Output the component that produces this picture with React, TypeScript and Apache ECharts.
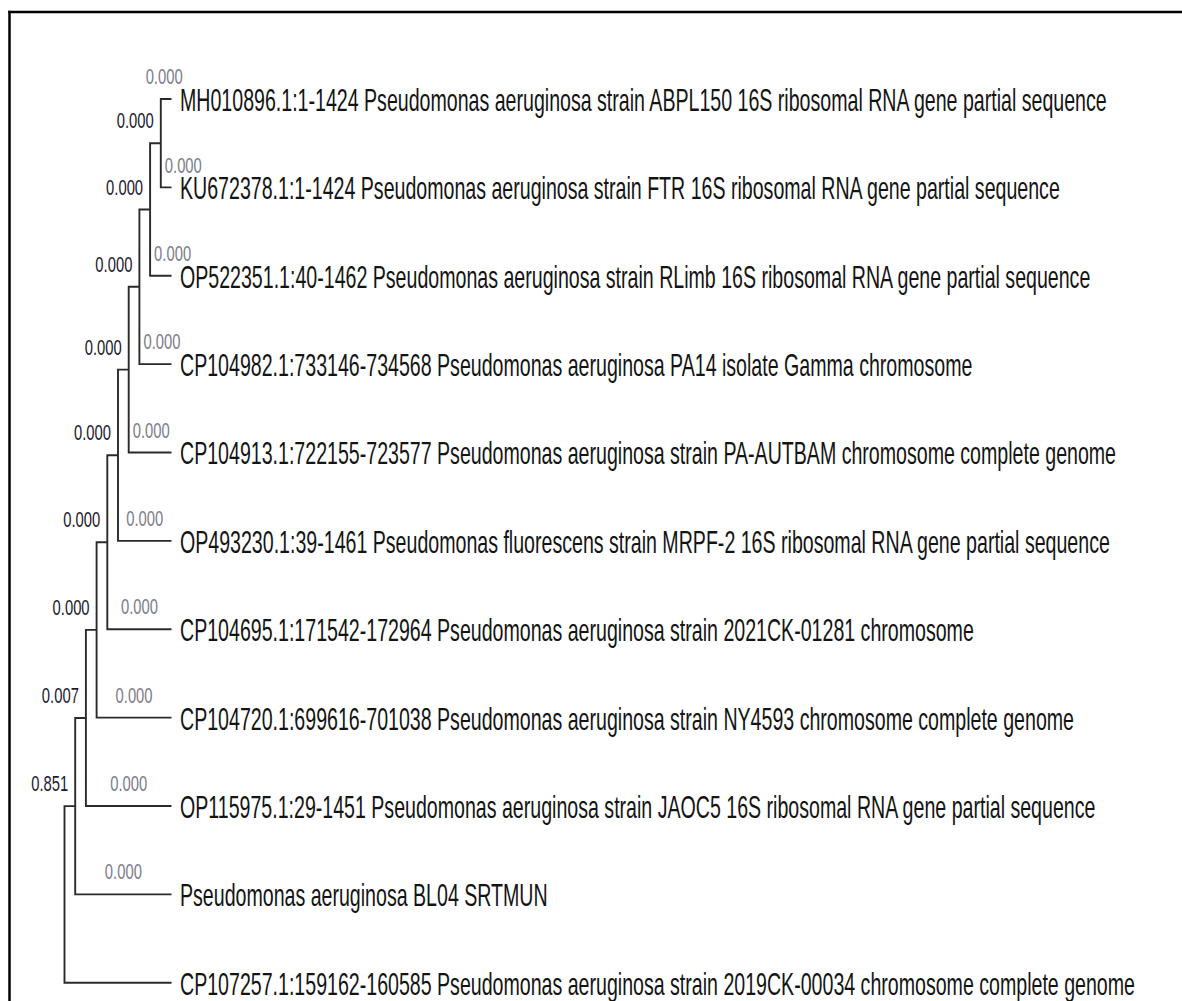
import React, { useEffect, useRef } from "react";
import * as echarts from "echarts";

// ---- data ----
const leafNames: string[] = [
  "MH010896.1:1-1424 Pseudomonas aeruginosa strain ABPL150 16S ribosomal RNA gene partial sequence",
  "KU672378.1:1-1424 Pseudomonas aeruginosa strain FTR 16S ribosomal RNA gene partial sequence",
  "OP522351.1:40-1462 Pseudomonas aeruginosa strain RLimb 16S ribosomal RNA gene partial sequence",
  "CP104982.1:733146-734568 Pseudomonas aeruginosa PA14 isolate Gamma chromosome",
  "CP104913.1:722155-723577 Pseudomonas aeruginosa strain PA-AUTBAM chromosome complete genome",
  "OP493230.1:39-1461 Pseudomonas fluorescens strain MRPF-2 16S ribosomal RNA gene partial sequence",
  "CP104695.1:171542-172964 Pseudomonas aeruginosa strain 2021CK-01281 chromosome",
  "CP104720.1:699616-701038 Pseudomonas aeruginosa strain NY4593 chromosome complete genome",
  "OP115975.1:29-1451 Pseudomonas aeruginosa strain JAOC5 16S ribosomal RNA gene partial sequence",
  "Pseudomonas aeruginosa BL04 SRTMUN",
  "CP107257.1:159162-160585 Pseudomonas aeruginosa strain 2019CK-00034 chromosome complete genome",
];

const leafBranchLabels: string[] = [
  "0.000", "0.000", "0.000", "0.000", "0.000", "0.000",
  "0.000", "0.000", "0.000", "0.000", "",
];

// internal nodes: children refer to leaves (L#) or internal nodes (N#); last is root
const cladeChildren: [string, string][] = [
  ["L0", "L1"],
  ["N0", "L2"],
  ["N1", "L3"],
  ["N2", "L4"],
  ["N3", "L5"],
  ["N4", "L6"],
  ["N5", "L7"],
  ["N6", "L8"],
  ["N7", "L9"],
  ["N8", "L10"],
];

const nodeLabels: string[] = [
  "0.000", "0.000", "0.000", "0.000", "0.000",
  "0.000", "0.000", "0.007", "0.851", "",
];

// ---- derived tree geometry (cladogram, in tree units) ----
const nNodes = cladeChildren.length;
const rootIdx = nNodes - 1;
const nodeDepth: number[] = new Array(nNodes).fill(0);
const parentDepthOfLeaf: number[] = new Array(leafNames.length).fill(0);
(function assignDepth(idx: number, d: number) {
  nodeDepth[idx] = d;
  cladeChildren[idx].forEach((c) => {
    if (c[0] === "N") assignDepth(parseInt(c.slice(1), 10), d + 1);
  });
})(rootIdx, 0);
const tipDepth = Math.max(...nodeDepth) + 1;
cladeChildren.forEach((ch, idx) => {
  ch.forEach((c) => {
    if (c[0] === "L") parentDepthOfLeaf[parseInt(c.slice(1), 10)] = nodeDepth[idx];
  });
});
const nodeY: number[] = new Array(nNodes).fill(0);
function childPos(c: string): [number, number] {
  const i = parseInt(c.slice(1), 10);
  if (c[0] === "L") return [tipDepth, i];
  return [nodeDepth[i], nodeY[i]];
}
function calcY(idx: number): number {
  cladeChildren[idx].forEach((c) => {
    if (c[0] === "N") calcY(parseInt(c.slice(1), 10));
  });
  const [a, b] = cladeChildren[idx];
  nodeY[idx] = (childPos(a)[1] + childPos(b)[1]) / 2;
  return nodeY[idx];
}
calcY(rootIdx);

const LINE = "#2a2a2a";
const GRAY = "#7d7d8a";
const DARK = "#1d1a2e";
const MAIN = "#141414";
const FONT_MAIN = '19.6px "Liberation Sans", Arial, sans-serif';
const FONT_SMALL = '14.8px "Liberation Sans", Arial, sans-serif';
const SY_MAIN = 1.57;
const SY_SMALL = 1.5;
const SMALL_W = 37;

function txt(x: number, y: number, text: string, font: string, fill: string, align: string, sy: number) {
  return {
    type: "text",
    x,
    y,
    scaleX: 1,
    scaleY: sy,
    silent: true,
    style: {
      text,
      font,
      fill,
      textAlign: align,
      textVerticalAlign: "middle",
    },
  };
}

export default function App() {
  const ref = useRef<HTMLDivElement>(null);
  useEffect(() => {
    if (!ref.current) return;
    const chart = echarts.init(ref.current, null, { renderer: "svg" });

    const nodeData = cladeChildren.map((_, i) => [nodeDepth[i], nodeY[i], i]);

    chart.setOption({
      animation: false,
      backgroundColor: "#ffffff",
      grid: { left: 64.5, top: 99, width: 107, height: 883.7, containLabel: false },
      xAxis: { type: "value", min: 0, max: tipDepth, show: false },
      yAxis: { type: "value", min: 0, max: leafNames.length - 1, inverse: true, show: false },
      series: [
        {
          type: "custom",
          name: "branches",
          clip: false,
          data: nodeData,
          renderItem: (params: any, api: any) => {
            const idx = api.value(2);
            const pn = api.coord([api.value(0), api.value(1)]);
            const [a, b] = cladeChildren[idx];
            const p1 = api.coord(childPos(a));
            const p2 = api.coord(childPos(b));
            return {
              type: "polyline",
              shape: {
                points: [
                  [p1[0], p1[1]],
                  [pn[0], p1[1]],
                  [pn[0], p2[1]],
                  [p2[0], p2[1]],
                ],
              },
              style: { stroke: LINE, lineWidth: 1.9, fill: "none" },
            };
          },
        },
      ],
    });

    const toPx = (p: [number, number]) => chart.convertToPixel({ gridIndex: 0 }, p) as number[];
    const graphics: any[] = [
      { type: "line", shape: { x1: 9.5, y1: 10.8, x2: 9.5, y2: 1001 }, style: { stroke: "#000", lineWidth: 2.5 }, silent: true },
      { type: "line", shape: { x1: 8.3, y1: 12, x2: 1182, y2: 12 }, style: { stroke: "#000", lineWidth: 2.5 }, silent: true },
    ];
    nodeLabels.forEach((lab, idx) => {
      if (!lab) return;
      const pn = toPx([nodeDepth[idx], nodeY[idx]]);
      graphics.push(txt(pn[0] - 7, pn[1] - 22.5, lab, FONT_SMALL, DARK, "right", SY_SMALL));
    });
    leafNames.forEach((name, i) => {
      const tip = toPx([tipDepth, i]);
      const par = toPx([parentDepthOfLeaf[i], i]);
      graphics.push(txt(tip[0] + 8.5, tip[1] + 1.2, name, FONT_MAIN, MAIN, "left", SY_MAIN));
      const lab = leafBranchLabels[i];
      if (lab) {
        const mid = (par[0] + tip[0]) / 2;
        if (i === 0) {
          graphics.push(txt(mid - 2, tip[1] - 22.5, lab, FONT_SMALL, GRAY, "center", SY_SMALL));
        } else {
          const left = Math.max(par[0] + 4, mid - SMALL_W / 2);
          graphics.push(txt(left, tip[1] - 22.5, lab, FONT_SMALL, GRAY, "left", SY_SMALL));
        }
      }
    });
    chart.setOption({ graphic: graphics });

    return () => chart.dispose();
  }, []);
  return (
    <div
      ref={ref}
      style={{ position: "fixed", left: 0, top: 0, width: 1182, height: 1001, background: "#fff" }}
    />
  );
}
